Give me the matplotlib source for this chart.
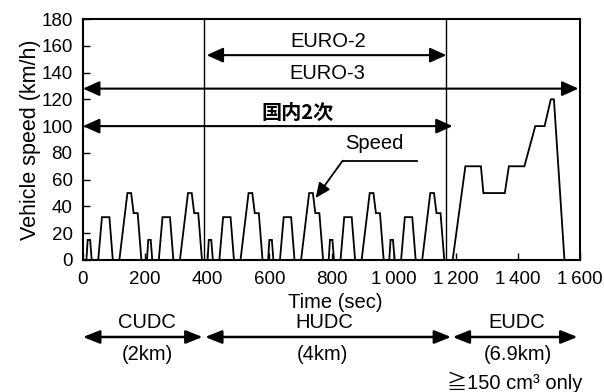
import matplotlib
matplotlib.use("Agg")
import matplotlib.pyplot as plt
from matplotlib.patches import FancyArrowPatch
import matplotlib.transforms as mtransforms

plt.rcParams['font.family'] = ['Liberation Sans', 'Noto Sans CJK JP', 'DejaVu Sans']

# ---- data: speed trace (6 x ECE-15 cycles + EUDC) ----
time_s = [
    0, 11, 15, 23, 28, 49, 61, 85, 96, 117, 143, 155, 163, 176, 188,
    195, 206, 210, 218, 223, 244, 256, 280, 291, 312, 338, 350, 358, 371, 383,
    390, 401, 405, 413, 418, 439, 451, 475, 486, 507, 533, 545, 553, 566, 578,
    585, 596, 600, 608, 613, 634, 646, 670, 681, 702, 728, 740, 748, 761, 773,
    780, 791, 795, 803, 808, 829, 841, 865, 876, 897, 923, 935, 943, 956, 968,
    975, 986, 990, 998, 1003, 1024, 1036, 1060, 1071, 1092, 1118, 1130, 1138, 1151, 1163,
    1170, 1190, 1231, 1281, 1289, 1358, 1371, 1421, 1456, 1486, 1506, 1516, 1550, 1570,
]
speed_kmh = [
    0, 0, 15, 15, 0, 0, 32, 32, 0, 0, 50, 50, 35, 35, 0,
    0, 0, 15, 15, 0, 0, 32, 32, 0, 0, 50, 50, 35, 35, 0,
    0, 0, 15, 15, 0, 0, 32, 32, 0, 0, 50, 50, 35, 35, 0,
    0, 0, 15, 15, 0, 0, 32, 32, 0, 0, 50, 50, 35, 35, 0,
    0, 0, 15, 15, 0, 0, 32, 32, 0, 0, 50, 50, 35, 35, 0,
    0, 0, 15, 15, 0, 0, 32, 32, 0, 0, 50, 50, 35, 35, 0,
    0, 0, 70, 70, 50, 50, 70, 70, 100, 100, 120, 120, 0, 0,
]

phase_bounds = [390, 1170]
x_ticks = [0, 200, 400, 600, 800, 1000, 1200, 1400, 1600]
x_tick_labels = ['0', '200', '400', '600', '800', '1\u2009000', '1\u2009200', '1\u2009400', '1\u2009600']
y_ticks = [0, 20, 40, 60, 80, 100, 120, 140, 160, 180]

fig = plt.figure(figsize=(6.04, 3.92), dpi=100)
ax = fig.add_axes([83/604, 1-260/392, (580-83)/604, (260-19)/392])

ax.plot(time_s, speed_kmh, color='black', lw=1.3, solid_joinstyle='miter')
for xb in phase_bounds:
    ax.axvline(xb, color='black', lw=1.0)

ax.set_xlim(0, 1600)
ax.set_ylim(0, 180)
ax.set_xticks(x_ticks)
ax.set_xticklabels(x_tick_labels)
ax.set_yticks(y_ticks)
ax.tick_params(direction='in', length=5, width=1, labelsize=13.5,
               top=False, right=False)
ax.tick_params(axis='x', pad=8)
ax.tick_params(axis='y', pad=7.5)
for s in ax.spines.values():
    s.set_linewidth(1.5)
ax.set_ylabel('Vehicle speed (km/h)', fontsize=15.5, labelpad=0)


def harrow(x0, x1, y, hl=1.0, hw=0.45, lw=1.5):
    a = FancyArrowPatch((x0, y), (x1, y), transform=ax.transData,
                        arrowstyle=f'<|-|>,head_length={hl},head_width={hw}',
                        mutation_scale=10, shrinkA=0, shrinkB=0,
                        color='black', lw=lw, clip_on=False)
    ax.add_artist(a)


# arrows inside plot
harrow(398, 1170, 153)
ax.text(788, 163, 'EURO-2', ha='center', va='center', fontsize=14.5)
harrow(0, 1595, 128)
ax.text(788, 139.5, 'EURO-3', ha='center', va='center', fontsize=14.5)
harrow(0, 1190, 100)
ax.text(690, 110.5, '国内2次', ha='center', va='center', fontsize=14.5,
        family=['Noto Sans CJK JP'], weight='bold')

# speed label + leader
ax.text(939, 87, 'Speed', ha='center', va='center', fontsize=14.5)
ax.plot([1074, 836], [74.2, 74.2], color='black', lw=1.3)
ax.annotate('', xy=(749, 46.3), xytext=(836, 74.2),
            arrowprops=dict(arrowstyle='-|>,head_length=0.9,head_width=0.4',
                            mutation_scale=10, color='black', lw=1.3,
                            shrinkA=0, shrinkB=0))

# below-axis annotations: x in data, y in figure pixels from top
trans = mtransforms.blended_transform_factory(ax.transData, fig.transFigure)


def fy(px):
    return 1 - px / 392


fig.text(335/604, fy(302), 'Time (sec)', ha='center', va='center', fontsize=14.5)

arrow_y = fy(337)
for (x0, x1) in [(0, 385), (393, 1185), (1190, 1592)]:
    a = FancyArrowPatch((x0, arrow_y), (x1, arrow_y), transform=trans,
                        arrowstyle='<|-|>,head_length=1.0,head_width=0.4',
                        mutation_scale=10, shrinkA=0, shrinkB=0,
                        color='black', lw=1.8, clip_on=False)
    fig.add_artist(a)

for x, txt in [(206, 'CUDC'), (778, 'HUDC'), (1395, 'EUDC')]:
    fig.text(x, fy(323), txt, transform=trans, ha='center', va='center', fontsize=14.5)
for x, txt in [(206, '(2km)'), (770, '(4km)'), (1399, '(6.9km)')]:
    fig.text(x, fy(355), txt, transform=trans, ha='center', va='center', fontsize=14.5)
fig.text(1389, fy(382), '≧150 cm³ only', transform=trans, ha='center', va='center',
         fontsize=14.5)

fig.savefig('out.png', dpi=100)
